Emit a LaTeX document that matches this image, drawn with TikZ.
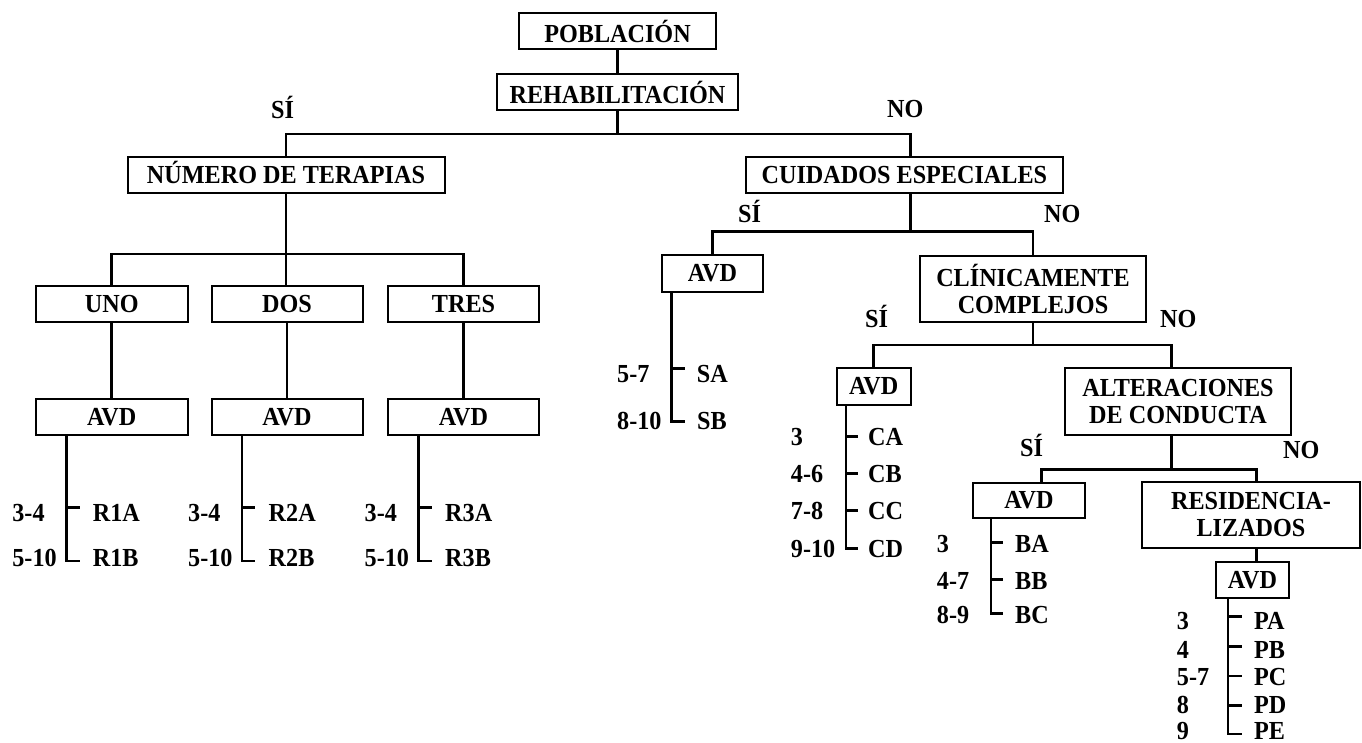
\documentclass[tikz,border=0pt]{standalone}
\usepackage{fontspec}
\setmainfont{Liberation Serif}[FakeStretch=0.93]
\begin{document}
\begin{tikzpicture}[x=1pt,y=-1pt,
  box/.style={draw, line width=2pt, inner sep=0pt, align=center,
    font=\bfseries\fontsize{26}{27}\selectfont},
  lbl/.style={inner sep=0pt, anchor=west, text height=17.2pt, text depth=0pt,
    font=\bfseries\fontsize{26}{27}\selectfont},
  conn/.style={line width=2.6pt, line join=miter}]
\useasboundingbox (0,0) rectangle (1362,743);
% boxes
\node[box, minimum width=197pt, minimum height=36pt] (pob) at (617.5,31.3) {POBLACIÓN};
\node[box, minimum width=241pt, minimum height=36pt] (reh) at (617.5,92) {REHABILITACIÓN};
\node[box, minimum width=317pt, minimum height=36.6pt, text height=17.2pt, text depth=0pt] (num) at (286,175) {NÚMERO DE TERAPIAS};
\node[box, minimum width=316.7pt, minimum height=36.6pt] (cui) at (904.4,175) {CUIDADOS ESPECIALES};
\node[box, minimum width=152pt, minimum height=36pt] (uno) at (111.7,303.7) {UNO};
\node[box, minimum width=151pt, minimum height=36pt] (dos) at (287,303.7) {DOS};
\node[box, minimum width=151pt, minimum height=36pt] (tres) at (463.5,303.7) {TRES};
\node[box, minimum width=152pt, minimum height=36pt] (avdA) at (111.7,417) {AVD};
\node[box, minimum width=151pt, minimum height=36pt] (avdD) at (287,417) {AVD};
\node[box, minimum width=151pt, minimum height=36pt] (avdT) at (463.5,417) {AVD};
\node[box, minimum width=101.6pt, minimum height=36.7pt] (avdS) at (712.5,273.5) {AVD};
\node[box, minimum width=225.7pt, minimum height=66pt] (clin) at (1033,288.7) {CLÍNICAMENTE\\COMPLEJOS};
\node[box, minimum width=74pt, minimum height=37pt] (avdC) at (873.7,386.5) {AVD};
\node[box, minimum width=225.7pt, minimum height=66.5pt] (alt) at (1178,401.7) {ALTERACIONES\\DE CONDUCTA};
\node[box, minimum width=112pt, minimum height=35pt] (avdB) at (1029,500) {AVD};
\node[box, minimum width=218pt, minimum height=66pt] (res) at (1251,515) {RESIDENCIA-\\LIZADOS};
\node[box, minimum width=73pt, minimum height=36pt] (avdP) at (1252.5,579.7) {AVD};
% yes / no labels
\node[lbl] (si1) at (271,109.5) {SÍ};
\node[lbl] (no1) at (887,109) {NO};
\node[lbl] (si2) at (738,213.5) {SÍ};
\node[lbl] (no2) at (1044,213.5) {NO};
\node[lbl] (si3) at (865,318.5) {SÍ};
\node[lbl] (no3) at (1160,318.5) {NO};
\node[lbl] (si4) at (1020,448) {SÍ};
\node[lbl] (no4) at (1283,450) {NO};
% connectors top
\coordinate (hb1L) at (286,134);
\coordinate (hb1R) at (910.7,134);
\draw[conn] (pob.south) -- (reh.north);
\draw[conn] (reh.south) -- (reh.south |- hb1L);
\draw[conn] (num.north) -- (hb1L) -- (hb1R) -- (hb1R |- cui.north);
% left subtree
\coordinate (hb2) at (0,254);
\draw[conn] (num.south) -- (num.south |- dos.north);
\draw[conn] (uno.north) -- (uno.north |- hb2) -- (tres.north |- hb2) -- (tres.north);
\draw[conn] (uno.south) -- (avdA.north);
\draw[conn] (dos.south) -- (avdD.north);
\draw[conn] (tres.south) -- (avdT.north);
\foreach \b/\c/\k in {avdA/1/uno, avdD/2/dos, avdT/3/tres}{
  \coordinate (s\k) at ([xshift=31.5pt]\b.south west);
  \draw[conn] (s\k) -- ++(0,125) -- ++(13.3,0);
  \draw[conn] ([yshift=-71.7pt]s\k) -- ++(13.3,0);
  \node[lbl] (ra\k) at ([xshift=-22.5pt,yshift=-76.5pt]\b.south west) {3-4};
  \node[lbl] (rb\k) at ([xshift=-22.5pt,yshift=-121.5pt]\b.south west) {5-10};
  \node[lbl] (ca\k) at ([xshift=58pt,yshift=-76.5pt]\b.south west) {R\c A};
  \node[lbl] (cb\k) at ([xshift=58pt,yshift=-121.5pt]\b.south west) {R\c B};
}
% right subtree: cuidados
\coordinate (hb3) at (0,231.7);
\draw[conn] (hb1R |- cui.south) -- (hb1R |- hb3);
\draw[conn] (avdS.north) -- (avdS.north |- hb3) -- (clin.north |- hb3) -- (clin.north);
% SA / SB
\coordinate (sS) at (671.7,291.7);
\draw[conn] (sS) -- (671.7,421.7) -- (685,421.7);
\draw[conn] (671.7,368.3) -- (685,368.3);
\node[lbl] (l57) at (617,374) {5-7};
\node[lbl] (l810) at (617,421) {8-10};
\node[lbl] (sa) at (696.7,374) {SA};
\node[lbl] (sb) at (697,421) {SB};
% clinicamente subtree
\coordinate (hb4) at (0,345);
\coordinate (altd) at (1171.7,345);
\draw[conn] (clin.south) -- (clin.south |- hb4);
\draw[conn] (avdC.north) -- (avdC.north |- hb4) -- (altd) -- (altd |- alt.north);
\draw[conn] (846,405) -- (846,548.3) -- (858,548.3);
\foreach \y in {436.7,473.3,510.7}{\draw[conn] (846,\y) -- (858,\y);}
\node[lbl] (c3) at (790.7,437) {3};
\node[lbl] (c46) at (790.7,474) {4-6};
\node[lbl] (c78) at (790.7,510.7) {7-8};
\node[lbl] (c910) at (790.7,548.7) {9-10};
\node[lbl] (cA) at (868,437) {CA};
\node[lbl] (cB) at (868,474) {CB};
\node[lbl] (cC) at (868,510.7) {CC};
\node[lbl] (cD) at (868,548.7) {CD};
% alteraciones subtree
\coordinate (bd) at (1041.7,469.3);
\coordinate (rd) at (1256.7,469.3);
\draw[conn] (altd |- alt.south) -- (altd |- bd);
\draw[conn] (bd |- avdB.north) -- (bd) -- (rd) -- (rd |- res.north);
\draw[conn] (991,517.7) -- (991,613.3) -- (1003,613.3);
\foreach \y in {542.7,579.3}{\draw[conn] (991,\y) -- (1003,\y);}
\node[lbl] (b3) at (936.7,544) {3};
\node[lbl] (b47) at (936.7,580.5) {4-7};
\node[lbl] (b89) at (936.7,615) {8-9};
\node[lbl] (bA) at (1015,544) {BA};
\node[lbl] (bB) at (1015,580.5) {BB};
\node[lbl] (bC) at (1015,615) {BC};
% residencializados subtree
\draw[conn] (rd |- res.south) -- (rd |- avdP.north);
\draw[conn] (1228,597.7) -- (1228,734) -- (1241.7,734);
\foreach \y in {616.7,646.7,676,705.5}{\draw[conn] (1228,\y) -- (1241.7,\y);}
\node[lbl] (p3) at (1176.7,621) {3};
\node[lbl] (p4) at (1176.7,649.5) {4};
\node[lbl] (p57) at (1176.7,677) {5-7};
\node[lbl] (p8) at (1176.7,704.5) {8};
\node[lbl] (p9) at (1176.7,731) {9};
\node[lbl] (pA) at (1254,621) {PA};
\node[lbl] (pB) at (1254,649.5) {PB};
\node[lbl] (pC) at (1254,677) {PC};
\node[lbl] (pD) at (1254,704.5) {PD};
\node[lbl] (pE) at (1254,731) {PE};
\end{tikzpicture}
\end{document}
